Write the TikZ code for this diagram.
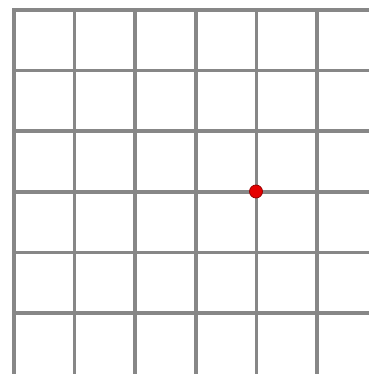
\documentclass[tikz,border=0pt]{standalone}
\definecolor{gridgray}{HTML}{878787}
\begin{document}
\begin{tikzpicture}[x=1pt,y=-1pt,
  gridline/.style={draw=gridgray,line width=3.6pt},
  reddot/.style={circle,fill=red!90!black,draw=red!60!black,line width=0.8pt,minimum size=13pt,inner sep=0pt}]
\useasboundingbox[fill=white] (0,0) rectangle (369,374);
\foreach \i in {0,...,5} {
  \draw[gridline] (14+60.6*\i,8.2) -- (14+60.6*\i,374);
  \draw[gridline] (12.2,10+60.6*\i) -- (369,10+60.6*\i);
}
\node[reddot] (p) at (256,191.5) {};
\end{tikzpicture}
\end{document}
